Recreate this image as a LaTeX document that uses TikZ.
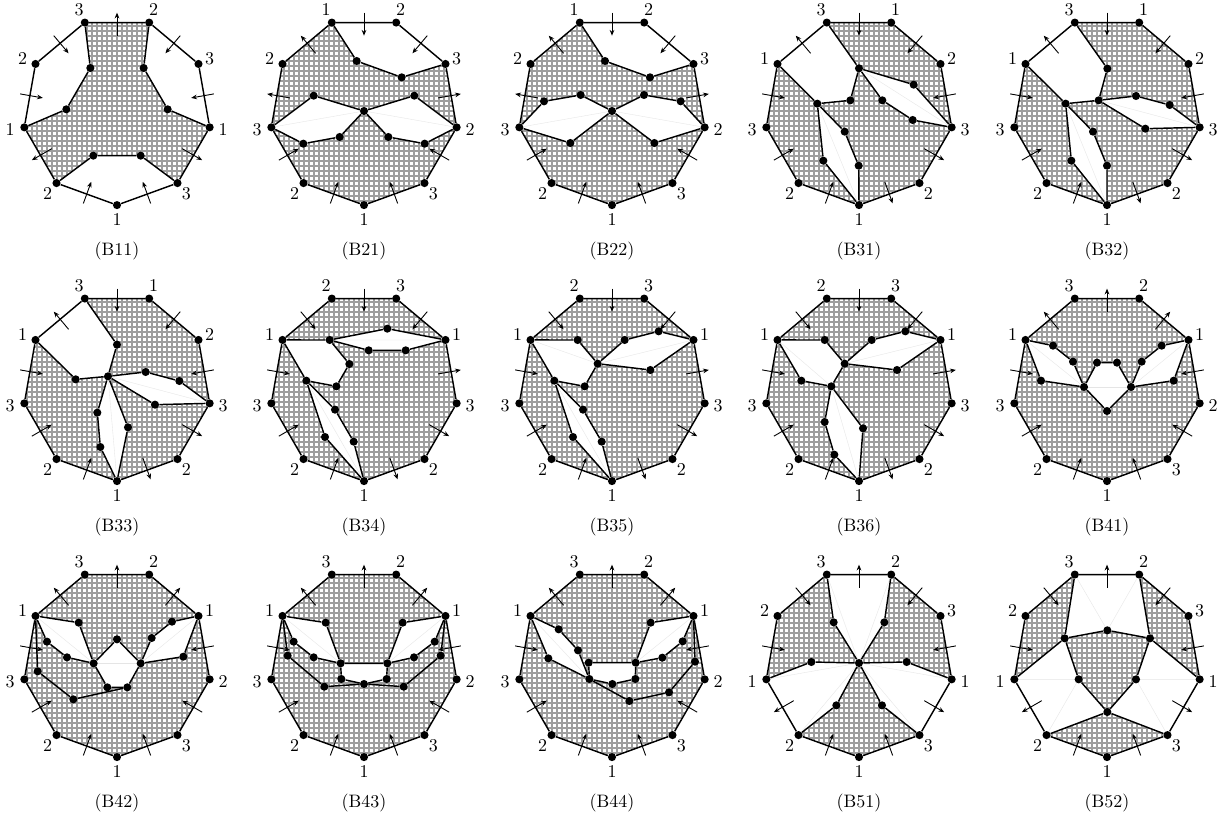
\documentclass[tikz,border=0pt]{standalone}
\usepackage{tikz}
\usetikzlibrary{arrows.meta, backgrounds}

% rim of one panel: vertex numbers and arrow directions, going round from the bottom
\newcommand{\nonagon}[2]{
    \foreach \a [count=\k] in {90,130,170,210,250,290,330,370,410} {
        \node[dot] (v\k) at (\a:282.3) {};
    }
    \draw[seam] (v1) -- (v2) -- (v3) -- (v4) -- (v5) -- (v6) -- (v7) -- (v8) -- (v9) -- (v1);
    \foreach \x/\y [count=\k] in {0/325,-208/248,-321/57,-283/-156,-114/-303,110/-303,278/-156,318/57,208/248} {
        \coordinate (p\k) at (\x,\y);
    }
    \foreach \t [count=\k] in {#1} {
        \node[number] (t\k) at (p\k) {\t};
    }
    \foreach \d [count=\k, evaluate=\k as \a using 70+40*\k] in {#2} {
        \draw[flow] (\a:260.5+34.5*\d) -- (\a:260.5-34.5*\d);
    }
    \begin{scope}[on background layer]
        \begin{scope}
            \clip (v1.center) -- (v2.center) -- (v3.center) -- (v4.center) -- (v5.center) -- (v6.center) -- (v7.center) -- (v8.center) -- (v9.center) -- cycle;
            \draw[mesh] foreach \g in {-300,-285,...,300} {(\g,-300) -- (\g,300) (-300,\g) -- (300,\g)};
        \end{scope}
    \end{scope}
}
\newcommand{\holefill}[2]{
    \begin{scope}[on background layer]
        \fill[white] (#1.center) foreach \p in {#2} {-- (\p.center)} -- cycle;
    \end{scope}
}
\newcommand{\faintline}[2]{
    \begin{scope}[on background layer]
        \draw[faint] (#1.center) -- (#2.center);
    \end{scope}
}

\begin{document}
\begin{tikzpicture}[
        x=0.18519pt, y=-0.18519pt,
        dot/.style={circle, fill=black, inner sep=0pt, minimum size=4.5pt},
        seam/.style={line width=0.8pt},
        flow/.style={-{Stealth[length=3.2pt, width=2.6pt]}, line width=0.5pt},
        mesh/.style={black!38, line width=0.6pt},
        faint/.style={gray!20, line width=0.2pt},
        number/.style={inner sep=0pt},
        tag/.style={inner sep=0pt}
    ]
    \useasboundingbox (0,0) rectangle (3675,2454);

    % --- Row 1 ---
    % --- B11 ---
    \begin{scope}[shift={(351,333)}]
        \nonagon{1,2,1,2,3,2,3,1,3}{1,-1,1,1,-1,1,1,-1,1}
        \node[dot] (a) at (-80,-129) {};
        \node[dot] (b) at (-152,-5) {};
        \node[dot] (c) at (-71,134) {};
        \node[dot] (d) at (71,134) {};
        \node[dot] (e) at (152,-5) {};
        \node[dot] (f) at (80,-129) {};
        \draw[seam] (v5) -- (a) -- (b) -- (v3);
        \draw[seam] (v6) -- (f) -- (e) -- (v8);
        \draw[seam] (v2) -- (c) -- (d) -- (v9);
        \holefill{v3}{v4,v5,a,b}
        \holefill{v6}{v7,v8,e,f}
        \holefill{v9}{v1,v2,c,d}
        \node[tag] (name) at (0,421) {(B11)};
    \end{scope}

    % --- B21 ---
    \begin{scope}[shift={(1092,333)}]
        \nonagon{1,2,3,2,1,2,3,2,3}{1,1,-1,-1,1,1,-1,1,1}
        \node[dot] (a) at (-22,-150) {};
        \node[dot] (b) at (113,-101) {};
        \node[dot] (c) at (-151,-46) {};
        \node[dot] (d) at (0,0) {};
        \node[dot] (e) at (151,-46) {};
        \node[dot] (f) at (-182,98) {};
        \node[dot] (g) at (-73,78) {};
        \node[dot] (h) at (73,78) {};
        \node[dot] (i) at (182,98) {};
        \draw[seam] (v5) -- (a) -- (b) -- (v7);
        \draw[seam] (v3) -- (c) -- (d) -- (e) -- (v8);
        \draw[seam] (v3) -- (f) -- (g) -- (d) -- (h) -- (i) -- (v8);
        \holefill{v5}{v6,v7,b,a}
        \holefill{v3}{c,d,g,f}
        \holefill{v8}{e,d,h,i}
        \faintline{v3}{d}
        \faintline{v8}{d}
        \node[tag] (name) at (0,421) {(B21)};
    \end{scope}

    % --- B22 ---
    \begin{scope}[shift={(1836,333)}]
        \nonagon{1,2,3,2,1,2,3,2,3}{1,1,-1,-1,1,1,-1,1,1}
        \node[dot] (a) at (-21,-150) {};
        \node[dot] (b) at (114,-101) {};
        \node[dot] (c) at (-204,-29) {};
        \node[dot] (d) at (-94,-48) {};
        \node[dot] (e) at (0,0) {};
        \node[dot] (f) at (96,-48) {};
        \node[dot] (g) at (206,-29) {};
        \node[dot] (h) at (-125,96) {};
        \node[dot] (i) at (127,96) {};
        \draw[seam] (v5) -- (a) -- (b) -- (v7);
        \draw[seam] (v3) -- (c) -- (d) -- (e) -- (f) -- (g) -- (v8);
        \draw[seam] (v3) -- (h) -- (e) -- (i) -- (v8);
        \holefill{v5}{v6,v7,b,a}
        \holefill{v3}{c,d,e,h}
        \holefill{v8}{g,f,e,i}
        \faintline{v3}{e}
        \faintline{v8}{e}
        \node[tag] (name) at (0,421) {(B22)};
    \end{scope}

    % --- B31 ---
    \begin{scope}[shift={(2577,333)}]
        \nonagon{1,2,3,1,3,1,2,3,2}{1,1,1,-1,1,1,1,-1,-1}
        \node[dot] (a) at (0,-128) {};
        \node[dot] (b) at (164,-79) {};
        \node[dot] (c) at (70,-32) {};
        \node[dot] (d) at (161,27) {};
        \node[dot] (e) at (-26,-32) {};
        \node[dot] (f) at (-125,-22) {};
        \node[dot] (g) at (-43,62) {};
        \node[dot] (h) at (-107,149) {};
        \node[dot] (i) at (-1,164) {};
        \draw[seam] (v5) -- (a) -- (b) -- (v8);
        \draw[seam] (a) -- (c) -- (d) -- (v8);
        \draw[seam] (a) -- (e) -- (f) -- (v4);
        \draw[seam] (f) -- (g) -- (i) -- (v1);
        \draw[seam] (f) -- (h) -- (v1);
        \holefill{v4}{v5,a,e,f}
        \holefill{a}{b,v8,d,c}
        \holefill{f}{g,i,v1,h}
        \faintline{a}{v8}
        \faintline{f}{v1}
        \node[tag] (name) at (0,421) {(B31)};
    \end{scope}

    % --- B32 ---
    \begin{scope}[shift={(3321,333)}]
        \nonagon{1,2,3,1,3,1,2,3,2}{1,1,1,-1,1,1,1,-1,-1}
        \node[dot] (a) at (1,-127) {};
        \node[dot] (b) at (-25,-32) {};
        \node[dot] (c) at (87,-45) {};
        \node[dot] (d) at (188,-18) {};
        \node[dot] (e) at (115,53) {};
        \node[dot] (f) at (-124,-22) {};
        \node[dot] (g) at (-42,62) {};
        \node[dot] (h) at (-107,149) {};
        \node[dot] (i) at (0,164) {};
        \draw[seam] (v5) -- (a) -- (b) -- (f) -- (v4);
        \draw[seam] (b) -- (c) -- (d) -- (v8);
        \draw[seam] (b) -- (e) -- (v8);
        \draw[seam] (f) -- (g) -- (i) -- (v1);
        \draw[seam] (f) -- (h) -- (v1);
        \holefill{v4}{v5,a,b,f}
        \holefill{b}{c,d,v8,e}
        \holefill{f}{g,i,v1,h}
        \faintline{b}{v8}
        \faintline{f}{v1}
        \node[tag] (name) at (0,421) {(B32)};
    \end{scope}

    % --- Row 2 ---
    % --- B33 ---
    \begin{scope}[shift={(351,1161)}]
        \nonagon{1,2,3,1,3,1,2,3,2}{1,1,1,-1,1,1,1,-1,-1}
        \node[dot] (a) at (0,-127) {};
        \node[dot] (b) at (-27,-32) {};
        \node[dot] (c) at (-124,-23) {};
        \node[dot] (d) at (86,-45) {};
        \node[dot] (e) at (187,-18) {};
        \node[dot] (f) at (114,53) {};
        \node[dot] (g) at (-59,77) {};
        \node[dot] (h) at (-50,180) {};
        \node[dot] (i) at (33,121) {};
        \draw[seam] (v5) -- (a) -- (b) -- (c) -- (v4);
        \draw[seam] (b) -- (d) -- (e) -- (v8);
        \draw[seam] (b) -- (f) -- (v8);
        \draw[seam] (b) -- (g) -- (h) -- (v1);
        \draw[seam] (b) -- (i) -- (v1);
        \holefill{v4}{v5,a,b,c}
        \holefill{b}{d,e,v8,f}
        \holefill{b}{g,h,v1,i}
        \faintline{b}{v8}
        \faintline{b}{v1}
        \node[tag] (name) at (0,421) {(B33)};
    \end{scope}

    % --- B34 ---
    \begin{scope}[shift={(1092,1161)}]
        \nonagon{1,2,3,1,2,3,1,3,2}{1,1,1,1,1,1,-1,-1,-1}
        \node[dot] (a) at (-103,-141) {};
        \node[dot] (b) at (70,-175) {};
        \node[dot] (c) at (14,-110) {};
        \node[dot] (d) at (125,-110) {};
        \node[dot] (e) at (-44,-69) {};
        \node[dot] (f) at (-83,-2) {};
        \node[dot] (g) at (-173,-19) {};
        \node[dot] (h) at (-87,68) {};
        \node[dot] (i) at (-117,150) {};
        \node[dot] (j) at (-31,164) {};
        \draw[seam] (v4) -- (a) -- (b) -- (v7);
        \draw[seam] (a) -- (c) -- (d) -- (v7);
        \draw[seam] (a) -- (e) -- (f) -- (g) -- (v4);
        \draw[seam] (g) -- (h) -- (j) -- (v1);
        \draw[seam] (g) -- (i) -- (v1);
        \holefill{v4}{a,e,f,g}
        \holefill{a}{b,v7,d,c}
        \holefill{g}{h,j,v1,i}
        \faintline{a}{v7}
        \faintline{g}{v1}
        \node[tag] (name) at (0,421) {(B34)};
    \end{scope}

    % --- B35 ---
    \begin{scope}[shift={(1836,1161)}]
        \nonagon{1,2,3,1,2,3,1,3,2}{1,1,1,1,1,1,-1,-1,-1}
        \node[dot] (a) at (-103,-141) {};
        \node[dot] (b) at (38,-141) {};
        \node[dot] (c) at (140,-167) {};
        \node[dot] (d) at (115,-51) {};
        \node[dot] (e) at (-43,-70) {};
        \node[dot] (f) at (-82,-2) {};
        \node[dot] (g) at (-173,-19) {};
        \node[dot] (h) at (-87,68) {};
        \node[dot] (i) at (-117,150) {};
        \node[dot] (j) at (-31,164) {};
        \draw[seam] (v4) -- (a) -- (e) -- (f) -- (g) -- (v4);
        \draw[seam] (e) -- (b) -- (c) -- (v7);
        \draw[seam] (e) -- (d) -- (v7);
        \draw[seam] (g) -- (h) -- (j) -- (v1);
        \draw[seam] (g) -- (i) -- (v1);
        \holefill{v4}{a,e,f,g}
        \holefill{e}{b,c,v7,d}
        \holefill{g}{h,j,v1,i}
        \faintline{v4}{e}
        \faintline{e}{v7}
        \faintline{g}{v1}
        \node[tag] (name) at (0,421) {(B35)};
    \end{scope}

    % --- B36 ---
    \begin{scope}[shift={(2577,1161)}]
        \nonagon{1,2,3,1,2,3,1,3,2}{1,1,1,1,1,1,-1,-1,-1}
        \node[dot] (a) at (-103,-141) {};
        \node[dot] (b) at (38,-141) {};
        \node[dot] (c) at (139,-167) {};
        \node[dot] (d) at (114,-51) {};
        \node[dot] (e) at (-43,-70) {};
        \node[dot] (f) at (-83,-2) {};
        \node[dot] (g) at (-173,-19) {};
        \node[dot] (h) at (-103,105) {};
        \node[dot] (i) at (-74,203) {};
        \node[dot] (j) at (12,124) {};
        \draw[seam] (v4) -- (a) -- (e) -- (f) -- (g) -- (v4);
        \draw[seam] (e) -- (b) -- (c) -- (v7);
        \draw[seam] (e) -- (d) -- (v7);
        \draw[seam] (f) -- (h) -- (i) -- (v1);
        \draw[seam] (f) -- (j) -- (v1);
        \holefill{v4}{a,e,f,g}
        \holefill{e}{b,c,v7,d}
        \holefill{f}{h,i,v1,j}
        \faintline{v4}{f}
        \faintline{e}{v7}
        \faintline{f}{v1}
        \node[tag] (name) at (0,421) {(B36)};
    \end{scope}

    % --- B41 ---
    \begin{scope}[shift={(3321,1161)}]
        \nonagon{1,2,3,1,3,2,1,2,3}{1,1,1,-1,-1,-1,1,1,1}
        \node[dot] (a) at (-162,-124) {};
        \node[dot] (b) at (-102,-76) {};
        \node[dot] (c) at (-30,-73) {};
        \node[dot] (d) at (30,-73) {};
        \node[dot] (e) at (104,-76) {};
        \node[dot] (f) at (164,-124) {};
        \node[dot] (g) at (-198,-19) {};
        \node[dot] (h) at (-69,0) {};
        \node[dot] (i) at (72,0) {};
        \node[dot] (j) at (0,72) {};
        \node[dot] (k) at (200,-19) {};
        \draw[seam] (v4) -- (a) -- (b) -- (h) -- (g) -- (v4);
        \draw[seam] (h) -- (c) -- (d) -- (i) -- (j) -- (h);
        \draw[seam] (v7) -- (f) -- (e) -- (i) -- (k) -- (v7);
        \holefill{v4}{a,b,h,g}
        \holefill{h}{c,d,i,j}
        \holefill{v7}{f,e,i,k}
        \faintline{v4}{h}
        \faintline{h}{i}
        \faintline{i}{v7}
        \node[tag] (name) at (0,421) {(B41)};
    \end{scope}

    % --- Row 3 ---
    % --- B42 ---
    \begin{scope}[shift={(351,1989)}]
        \nonagon{1,2,3,1,3,2,1,2,3}{1,1,1,-1,-1,-1,1,1,1}
        \node[dot] (a) at (-115,-121) {};
        \node[dot] (b) at (-210,-64) {};
        \node[dot] (c) at (-150,-17) {};
        \node[dot] (d) at (-70,1) {};
        \node[dot] (e) at (0,-71) {};
        \node[dot] (f) at (71,1) {};
        \node[dot] (g) at (-29,73) {};
        \node[dot] (h) at (31,73) {};
        \node[dot] (i) at (165,-124) {};
        \node[dot] (j) at (104,-75) {};
        \node[dot] (k) at (199,-19) {};
        \node[dot] (l) at (-238,25) {};
        \node[dot] (m) at (-131,109) {};
        \draw[seam] (v4) -- (a) -- (d) -- (c) -- (b) -- (v4);
        \draw[seam] (d) -- (e) -- (f) -- (h) -- (g) -- (d);
        \draw[seam] (v7) -- (i) -- (j) -- (f) -- (k) -- (v7);
        \draw[seam] (v4) -- (l) -- (m) -- (h);
        \holefill{v4}{a,d,c,b}
        \holefill{d}{e,f,h,g}
        \holefill{v7}{i,j,f,k}
        \faintline{v4}{d}
        \faintline{d}{f}
        \faintline{f}{v7}
        \node[tag] (name) at (0,421) {(B42)};
    \end{scope}

    % --- B43 ---
    \begin{scope}[shift={(1092,1989)}]
        \nonagon{1,2,3,1,3,2,1,2,3}{1,1,1,-1,-1,-1,1,1,1}
        \node[dot] (a) at (-115,-121) {};
        \node[dot] (b) at (-211,-64) {};
        \node[dot] (c) at (-151,-17) {};
        \node[dot] (d) at (-70,1) {};
        \node[dot] (e) at (70,1) {};
        \node[dot] (f) at (116,-121) {};
        \node[dot] (g) at (212,-64) {};
        \node[dot] (h) at (150,-17) {};
        \node[dot] (i) at (-68,48) {};
        \node[dot] (j) at (68,48) {};
        \node[dot] (k) at (0,63) {};
        \node[dot] (l) at (-229,-22) {};
        \node[dot] (m) at (-119,71) {};
        \node[dot] (n) at (119,71) {};
        \node[dot] (o) at (230,-22) {};
        \draw[seam] (v4) -- (a) -- (d) -- (c) -- (b) -- (v4);
        \draw[seam] (d) -- (e) -- (j) -- (k) -- (i) -- (d);
        \draw[seam] (v7) -- (f) -- (e) -- (h) -- (g) -- (v7);
        \draw[seam] (v4) -- (l) -- (m) -- (k) -- (n) -- (o) -- (v7);
        \holefill{v4}{a,d,c,b}
        \holefill{d}{e,j,k,i}
        \holefill{v7}{f,e,h,g}
        \faintline{v4}{d}
        \faintline{e}{v7}
        \node[tag] (name) at (0,421) {(B43)};
    \end{scope}

    % --- B44 ---
    \begin{scope}[shift={(1836,1989)}]
        \nonagon{1,2,3,1,3,2,1,2,3}{1,1,1,-1,-1,-1,1,1,1}
        \node[dot] (a) at (-160,-101) {};
        \node[dot] (b) at (-102,-38) {};
        \node[dot] (c) at (-70,-1) {};
        \node[dot] (d) at (-68,48) {};
        \node[dot] (e) at (-191,-14) {};
        \node[dot] (f) at (1,63) {};
        \node[dot] (g) at (70,48) {};
        \node[dot] (h) at (71,-1) {};
        \node[dot] (i) at (116,-121) {};
        \node[dot] (j) at (212,-65) {};
        \node[dot] (k) at (151,-16) {};
        \node[dot] (l) at (249,-4) {};
        \node[dot] (m) at (171,88) {};
        \node[dot] (n) at (52,114) {};
        \draw[seam] (v4) -- (a) -- (b) -- (d) -- (e) -- (v4);
        \draw[seam] (c) -- (h) -- (g) -- (f) -- (d) -- (c);
        \draw[seam] (v7) -- (i) -- (h) -- (k) -- (j) -- (v7);
        \draw[seam] (v7) -- (l) -- (m) -- (n) -- (d);
        \holefill{v4}{a,b,d,e}
        \holefill{c}{h,g,f,d}
        \holefill{v7}{i,h,k,j}
        \faintline{v4}{d}
        \faintline{v7}{h}
        \node[tag] (name) at (0,421) {(B44)};
    \end{scope}

    % --- B51 ---
    \begin{scope}[shift={(2577,1989)}]
        \nonagon{1,2,1,2,3,2,3,1,3}{1,-1,1,1,-1,1,1,-1,1}
        \node[dot] (o) at (0,0) {};
        \node[dot] (a) at (-76,-122) {};
        \node[dot] (b) at (76,-122) {};
        \node[dot] (c) at (-143,-3) {};
        \node[dot] (d) at (143,-3) {};
        \node[dot] (e) at (-68,127) {};
        \node[dot] (f) at (69,127) {};
        \draw[seam] (v5) -- (a) -- (o) -- (b) -- (v6);
        \draw[seam] (v3) -- (c) -- (o) -- (d) -- (v8);
        \draw[seam] (v2) -- (e) -- (o) -- (f) -- (v9);
        \holefill{v5}{v6,b,o,a}
        \holefill{v3}{c,o,e,v2}
        \holefill{v8}{d,o,f,v9}
        \faintline{v5}{o}
        \faintline{v6}{o}
        \faintline{v3}{o}
        \faintline{v8}{o}
        \faintline{v2}{o}
        \faintline{v9}{o}
        \node[tag] (name) at (0,421) {(B51)};
    \end{scope}

    % --- B52 ---
    \begin{scope}[shift={(3321,1989)}]
        \nonagon{1,2,1,2,3,2,3,1,3}{1,-1,1,1,-1,1,1,-1,1}
        \node[dot] (a) at (-127,-74) {};
        \node[dot] (b) at (1,-98) {};
        \node[dot] (c) at (129,-74) {};
        \node[dot] (d) at (-85,49) {};
        \node[dot] (e) at (87,49) {};
        \node[dot] (f) at (1,147) {};
        \draw[seam] (v5) -- (a) -- (v3);
        \draw[seam] (v6) -- (c) -- (v8);
        \draw[seam] (a) -- (b) -- (c) -- (e) -- (f) -- (d) -- (a);
        \draw[seam] (v2) -- (f) -- (v9);
        \holefill{v5}{v6,c,b,a}
        \holefill{v3}{a,d,f,v2}
        \holefill{v8}{c,e,f,v9}
        \faintline{v5}{b}
        \faintline{v6}{b}
        \faintline{v3}{d}
        \faintline{v2}{d}
        \faintline{v8}{e}
        \faintline{v9}{e}
        \node[tag] (name) at (0,421) {(B52)};
    \end{scope}
\end{tikzpicture}
\end{document}
